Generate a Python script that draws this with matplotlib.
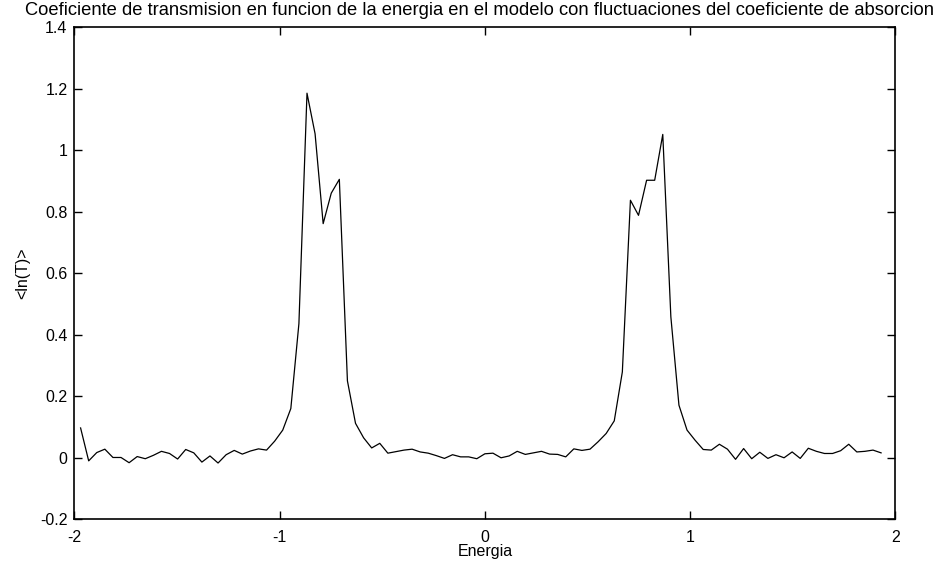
import numpy as np
import matplotlib
matplotlib.use("Agg")
import matplotlib.pyplot as plt

plt.rcParams['font.family'] = ['Liberation Sans', 'DejaVu Sans']

# energia: 100 puntos equiespaciados
energia = np.linspace(-1.97, 1.93, 100)

# <ln(T)>
lnT = [0.097, -0.010, 0.017, 0.028, 0.001, 0.001, -0.016, 0.004, -0.003, 0.008,
       0.021, 0.014, -0.004, 0.027, 0.016, -0.014, 0.006, -0.017, 0.010, 0.024,
       0.012, 0.022, 0.029, 0.025, 0.054, 0.090, 0.160, 0.436, 1.185, 1.053,
       0.761, 0.860, 0.905, 0.250, 0.112, 0.065, 0.032, 0.047, 0.015, 0.020,
       0.025, 0.028, 0.019, 0.015, 0.007, -0.002, 0.010, 0.003, 0.003, -0.003,
       0.013, 0.015, 0.000, 0.006, 0.021, 0.011, 0.016, 0.021, 0.012, 0.011,
       0.003, 0.029, 0.024, 0.028, 0.052, 0.079, 0.120, 0.279, 0.837, 0.788,
       0.902, 0.902, 1.051, 0.458, 0.171, 0.090, 0.057, 0.027, 0.025, 0.044,
       0.028, -0.005, 0.030, -0.003, 0.018, -0.002, 0.010, 0.000, 0.019, -0.002,
       0.031, 0.021, 0.014, 0.014, 0.023, 0.044, 0.019, 0.021, 0.025, 0.016]

xticks = [-2, -1, 0, 1, 2]
xticklabels = ['-2', '-1', '0', '1', '2']
yticks = [-0.2, 0, 0.2, 0.4, 0.6, 0.8, 1.0, 1.2, 1.4]
yticklabels = ['-0.2', '0', '0.2', '0.4', '0.6', '0.8', '1', '1.2', '1.4']

fig = plt.figure(figsize=(9.41, 5.69), dpi=100)
ax = fig.add_axes([0.0791, 0.0873, 0.8725, 0.8652])

ax.plot(energia, lnT, color='black', linewidth=0.9)

ax.set_xlim(-2, 2)
ax.set_ylim(-0.2, 1.4)
ax.set_xticks(xticks)
ax.set_xticklabels(xticklabels)
ax.set_yticks(yticks)
ax.set_yticklabels(yticklabels)
ax.tick_params(direction='in', length=6, width=1, top=True, right=True,
               labelsize=11.5)
ax.tick_params(axis='y', pad=5)
ax.tick_params(axis='x', pad=8)
for s in ax.spines.values():
    s.set_linewidth(1.2)

ax.set_xlabel('Energia', fontsize=11.5, labelpad=-1)
ax.set_ylabel('<ln(T)>', fontsize=11.5, labelpad=7)
fig.text(0.51, 0.981, 'Coeficiente de transmision en funcion de la energia en el modelo '
         'con fluctuaciones del coeficiente de absorcion',
         ha='center', va='center', fontsize=13.2)

fig.savefig('out.png', dpi=100)
